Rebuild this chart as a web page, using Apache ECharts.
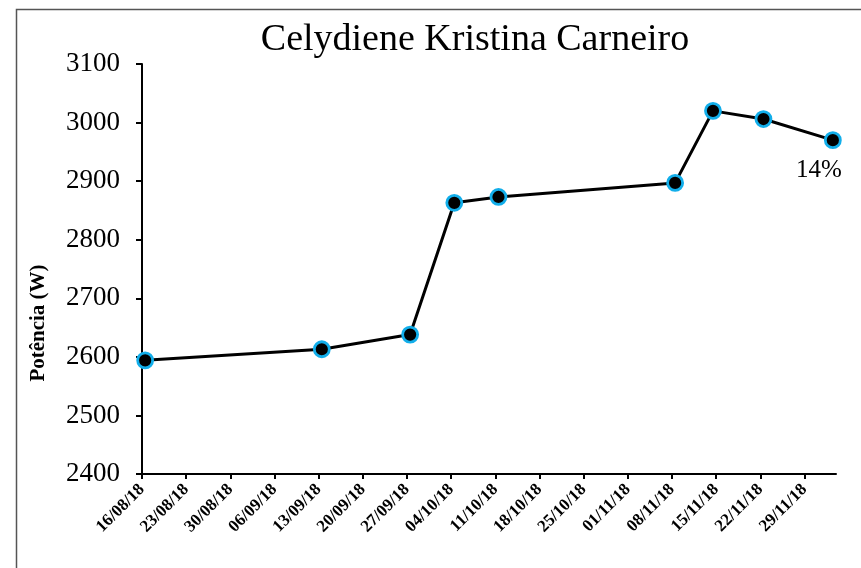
<!DOCTYPE html>
<html>
<head>
<meta charset="utf-8">
<script src="https://cdn.jsdelivr.net/npm/echarts@6/dist/echarts.min.js"></script>
<style>
	html, body { margin: 0; padding: 0; background: #fff; }
	#chart { width: 861px; height: 568px; }
</style>
</head>
<body>
<div id="chart"></div>
<script>
	// dados
	var datas = ['2018-08-16', '2018-09-13', '2018-09-27', '2018-10-04', '2018-10-11', '2018-11-08', '2018-11-14', '2018-11-22', '2018-12-03'];
	var potencia = [2594, 2613, 2638, 2863, 2873, 2897, 3020, 3006, 2970];
	var rotuloFinal = '14%';
	var titulo = 'Celydiene Kristina Carneiro';
	var nomeEixoY = 'Potência (W)';

	var DIA = 86400000;
	var inicio = Date.UTC(2018, 7, 16);
	var fim = Date.UTC(2018, 11, 4);
	var semana = 7 * DIA;

	var marcas = [];
	for (var t = inicio; t < fim; t += semana) marcas.push(t);

	function toMs(s) {
		var p = s.split('-');
		return Date.UTC(+p[0], +p[1] - 1, +p[2]) + DIA / 2;
	}
	function pad(n) { return (n < 10 ? '0' : '') + n; }
	function fmt(v) {
		var d = new Date(v);
		return pad(d.getUTCDate()) + '/' + pad(d.getUTCMonth() + 1) + '/' + String(d.getUTCFullYear()).slice(2);
	}

	var serie = datas.map(function (d, i) {
		var item = { value: [toMs(d), potencia[i]] };
		if (i === datas.length - 1) {
			item.label = {
				show: true, position: 'bottom', offset: [-14, 4],
				formatter: rotuloFinal, fontFamily: 'Liberation Serif', fontSize: 25, color: '#000'
			};
		}
		return item;
	});

	var myChart = echarts.init(document.getElementById('chart'));
	var option = {
		animation: false,
		backgroundColor: '#fff',
		title: {
			text: titulo, left: 470, top: 16, textAlign: 'center',
			textStyle: { fontFamily: 'Liberation Serif', fontSize: 38, fontWeight: 'normal', color: '#000' }
		},
		graphic: [{
			type: 'rect', left: 14, top: 7, silent: true,
			shape: { width: 900, height: 600 },
			style: { fill: 'none', stroke: '#555', lineWidth: 1.5 }
		}],
		grid: { left: 142, right: 25, top: 64, bottom: 94, containLabel: false },
		xAxis: {
			type: 'value', min: inicio, max: fim, interval: semana,
			splitLine: { show: false },
			axisLine: { lineStyle: { color: '#000', width: 2 } },
			axisTick: { show: true, length: 5, customValues: marcas, lineStyle: { color: '#000', width: 2 } },
			axisLabel: {
				customValues: marcas, rotate: 45, margin: 13, formatter: fmt,
				fontFamily: 'Liberation Serif', fontSize: 17, fontWeight: 'bold', color: '#000'
			}
		},
		yAxis: {
			type: 'value', min: 2400, max: 3100, interval: 100,
			name: nomeEixoY, nameLocation: 'middle', nameGap: 93, nameRotate: 90,
			nameTextStyle: {
				fontFamily: 'Liberation Serif', fontSize: 21, fontWeight: 'bold', color: '#000',
				padding: [0, 108, 0, 0]
			},
			splitLine: { show: false },
			axisLine: { show: true, lineStyle: { color: '#000', width: 2 } },
			axisTick: { show: true, length: 6, lineStyle: { color: '#000', width: 2 } },
			axisLabel: {
				margin: 22, formatter: function (v) { return String(v); },
				fontFamily: 'Liberation Serif', fontSize: 27, color: '#000'
			}
		},
		series: [{
			type: 'line',
			data: serie,
			symbol: 'circle', symbolSize: 15,
			lineStyle: { color: '#000', width: 3 },
			itemStyle: { color: '#000', borderColor: '#12aeea', borderWidth: 2.8 },
			z: 3
		}]
	};
	myChart.setOption(option);
</script>
</body>
</html>
